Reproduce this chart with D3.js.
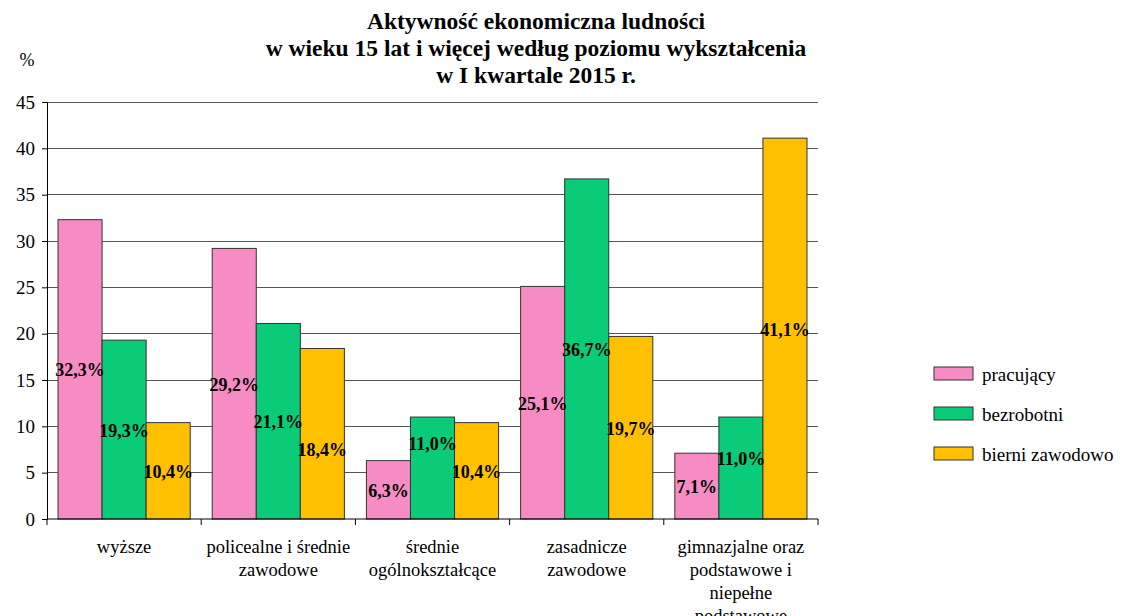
<!DOCTYPE html>
<html><head><meta charset="utf-8">
<script src="https://cdn.jsdelivr.net/npm/d3@7"></script>
<style>body{margin:0;background:#fff}svg{display:block}svg text{font-family:"Liberation Serif","Times New Roman",serif}</style>
</head><body><svg id="c" width="1121" height="616"></svg>
<script>
const categories = [
  ["wyższe"],
  ["policealne i średnie", "zawodowe"],
  ["średnie", "ogólnokształcące"],
  ["zasadnicze", "zawodowe"],
  ["gimnazjalne oraz", "podstawowe i", "niepełne", "podstawowe"]
];
const seriesNames = ["pracujący", "bezrobotni", "bierni zawodowo"];
const pracujacy = [32.3, 29.2, 6.3, 25.1, 7.1];
const bezrobotni = [19.3, 21.1, 11.0, 36.7, 11.0];
const bierni = [10.4, 18.4, 10.4, 19.7, 41.1];
const yTicks = [0, 5, 10, 15, 20, 25, 30, 35, 40, 45];
const titleLines = ["Aktywność ekonomiczna ludności", "w wieku 15 lat i więcej według poziomu wykształcenia", "w I kwartale 2015 r."];
const colors = ["#F78CC4", "#0ACB78", "#FFC000"];

const series = [pracujacy, bezrobotni, bierni];
const svg = d3.select("#c");
const L = 47, R = 818, T = 102, B = 519;
const x = d3.scaleBand().domain(d3.range(categories.length)).range([L, R]).paddingInner(0).paddingOuter(0);
const y = d3.scaleLinear().domain([0, 45]).range([B, T]);

// gridlines
svg.append("g").selectAll("line").data(yTicks.filter(d => d > 0)).join("line")
  .attr("x1", L).attr("x2", R).attr("y1", d => y(d)).attr("y2", d => y(d))
  .attr("stroke", "#555").attr("stroke-width", 1).attr("shape-rendering", "crispEdges");

// bars
const bw = x.bandwidth();
const off = bw * 11 / 154, barW = bw * 44 / 154;
series.forEach((s, si) => {
  svg.append("g").selectAll("rect").data(s).join("rect")
    .attr("x", (d, i) => x(i) + off + si * barW)
    .attr("y", d => y(d))
    .attr("width", barW)
    .attr("height", d => B - y(d))
    .attr("fill", colors[si]).attr("stroke", "#333").attr("stroke-width", 1);
});

// y axis
const ya = d3.axisLeft(y).tickValues(yTicks).tickSize(5).tickPadding(7).tickFormat(d3.format("d"));
const gy = svg.append("g").attr("transform", `translate(${L},0)`).call(ya).attr("font-family", null);
gy.select(".domain").attr("stroke", "#000");
gy.selectAll("line").attr("stroke", "#000");
gy.selectAll("text").attr("font-size", 19).attr("fill", "#000");

// x axis
svg.append("line").attr("x1", L).attr("x2", R).attr("y1", B).attr("y2", B).attr("stroke", "#000");
svg.append("g").selectAll("line").data(d3.range(categories.length + 1)).join("line")
  .attr("x1", i => L + i * bw).attr("x2", i => L + i * bw).attr("y1", B).attr("y2", B + 6).attr("stroke", "#000");

// category labels
categories.forEach((lines, i) => {
  const t = svg.append("text").attr("text-anchor", "middle").attr("font-size", 18.5).attr("fill", "#000");
  lines.forEach((ln, k) => t.append("tspan").attr("x", x(i) + bw / 2).attr("y", 553 + k * 23).text(ln));
});

// value labels with simple collision avoidance within each category
const GAP = 28, MAXY = B - 35;
categories.forEach((c, i) => {
  const ys = series.map(s => (y(s[i]) + B) / 2);
  for (let k = 0; k < 2; k++) {
    const a = k, b = k + 1;
    if (Math.abs(ys[a] - ys[b]) < GAP) {
      const lo = series[a][i] < series[b][i] ? a : b; // shorter bar
      const hi = lo === a ? b : a;
      if (ys[hi] + GAP <= MAXY) ys[lo] = ys[hi] + GAP;
      else ys[hi] = ys[lo] - GAP;
    }
  }
  series.forEach((s, si) => {
    svg.append("text")
      .attr("x", x(i) + off + si * barW + barW / 2)
      .attr("y", ys[si] + 7)
      .attr("text-anchor", "middle").attr("font-size", 18).attr("font-weight", "bold").attr("fill", "#000")
      .text(d3.format(".1f")(s[i]).replace(".", ",") + "%");
  });
});

// title
titleLines.forEach((t, k) => svg.append("text").attr("x", 536).attr("y", 29 + k * 27)
  .attr("text-anchor", "middle").attr("font-size", 23.5).attr("font-weight", "bold").text(t));

svg.append("text").attr("x", 27).attr("y", 66).attr("text-anchor", "middle").attr("font-size", 18).text("%");

// legend
seriesNames.forEach((n, k) => {
  const yy = 367 + k * 40;
  svg.append("rect").attr("x", 934).attr("y", yy).attr("width", 39).attr("height", 13)
    .attr("fill", colors[k]).attr("stroke", "#333");
  svg.append("text").attr("x", 982).attr("y", yy + 14).attr("font-size", 19).text(n);
});
</script></body></html>
